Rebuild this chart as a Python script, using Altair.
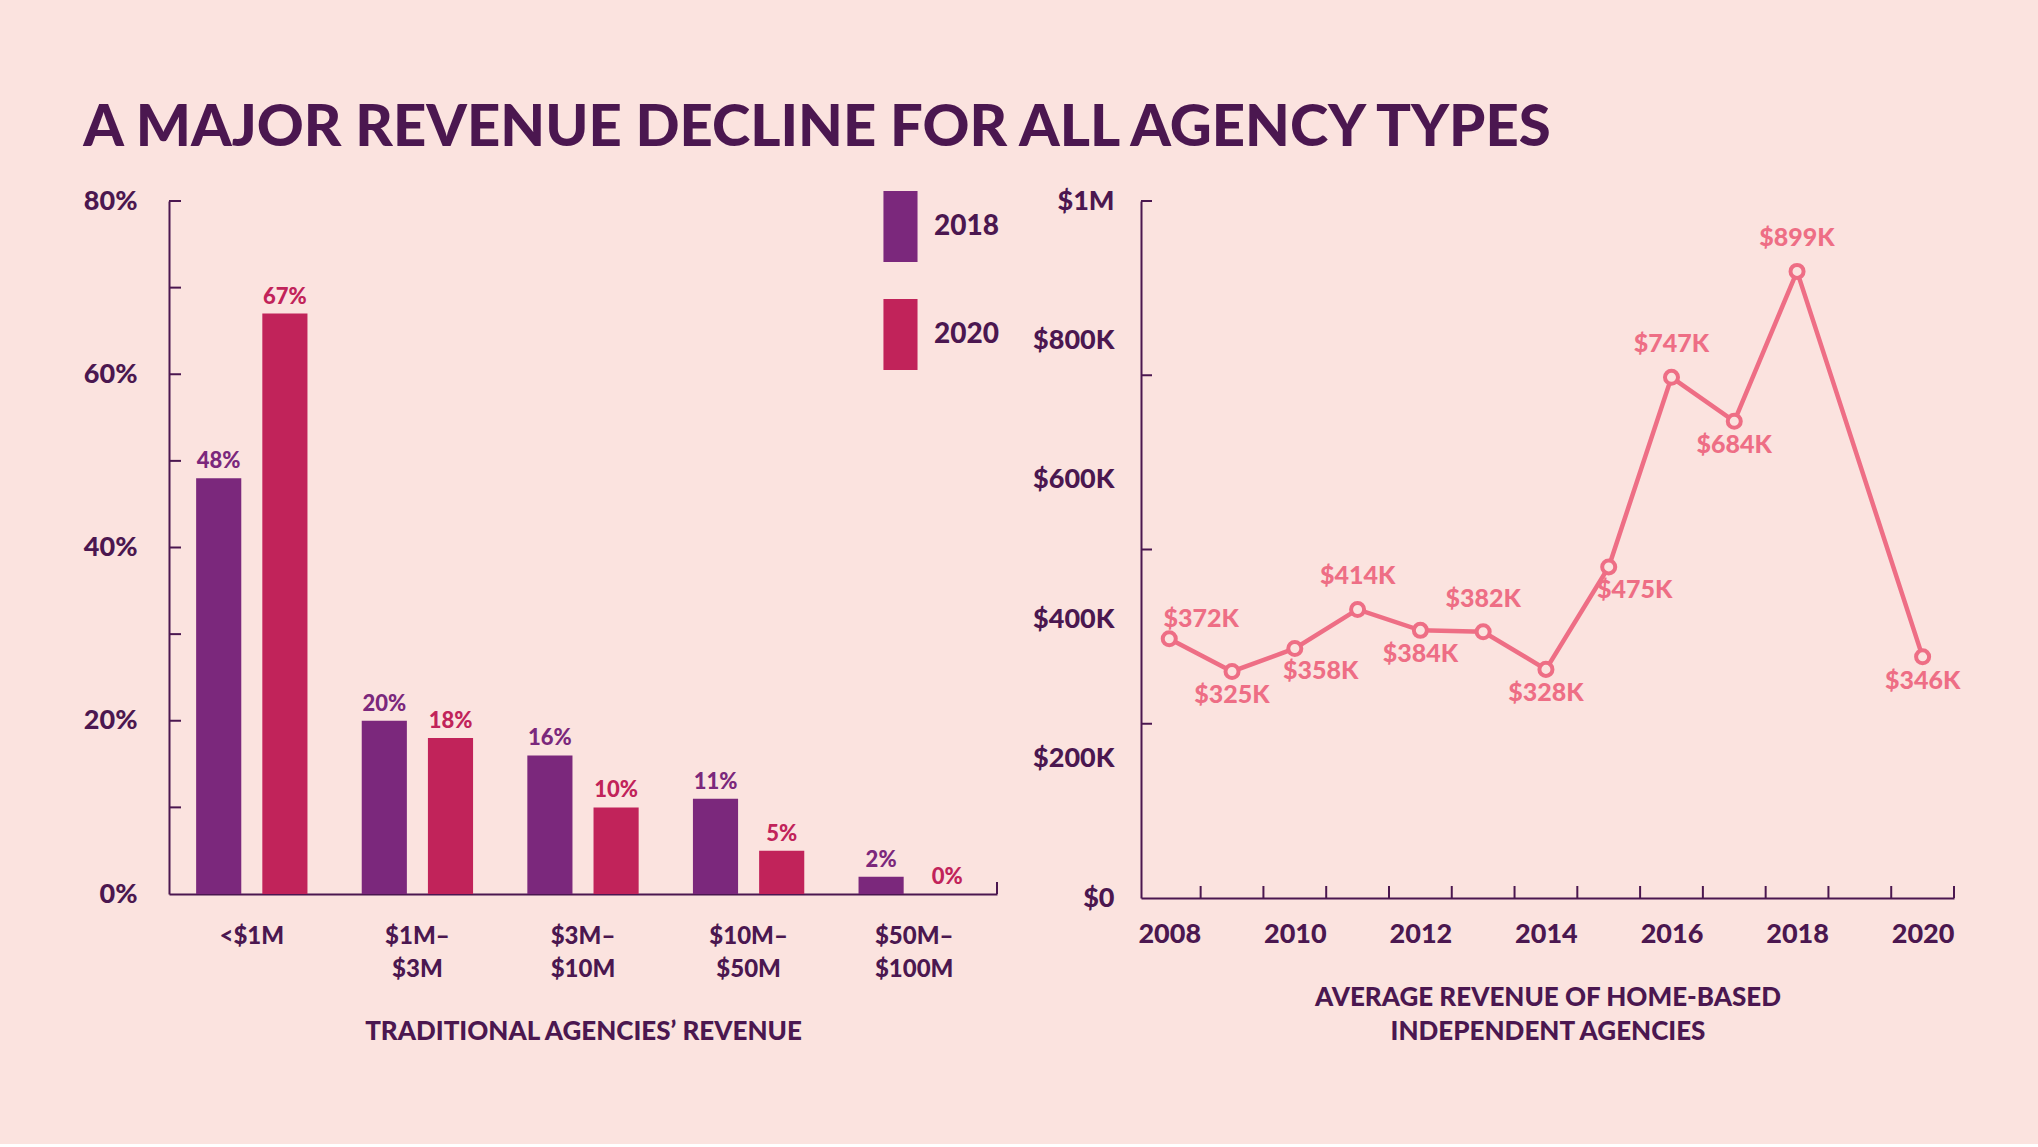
import altair as alt
import pandas as pd

# ---- data -------------------------------------------------------------
# Traditional agencies: share of agencies in each revenue band
bands = ["<$1M", "$1M–$3M", "$3M–$10M", "$10M–$50M", "$50M–$100M"]
share_2018 = [48, 20, 16, 11, 2]
share_2020 = [67, 18, 10, 5, 0]
legend_years = ["2018", "2020"]
share_ticks = [10, 20, 30, 40, 50, 60, 70, 80]
share_labels = [0, 20, 40, 60, 80]

# Home-based independent agencies: average revenue (thousands of dollars)
years = [2008, 2009, 2010, 2011, 2012, 2013, 2014, 2015, 2016, 2017, 2018, 2020]
avg_revenue_k = [372, 325, 358, 414, 384, 382, 328, 475, 747, 684, 899, 346]
label_side = ["above-right", "below", "below-right", "above", "below", "above",
              "below", "below-right", "above", "below", "above", "below"]
year_labels = [2008, 2010, 2012, 2014, 2016, 2018, 2020]
year_ticks = [2008.5, 2009.5, 2010.5, 2011.5, 2012.5, 2013.5, 2014.5,
              2015.5, 2016.5, 2017.5, 2018.5, 2019.5, 2020.5]
revenue_labels = [0, 200000, 400000, 600000, 800000, 1000000]
revenue_ticks = [250000, 500000, 750000, 1000000]

# ---- style ------------------------------------------------------------
BG = "#FBE3DF"
DARK = "#4B1750"
PURPLE = "#7B287C"
CRIMSON = "#C1235A"
PINK = "#EE6E85"
FONT = "Lato"
HEAVY = 900

LEFT_W, LEFT_H = 828, 693
RIGHT_W, RIGHT_H = 813, 697

# ---- left: grouped bars -------------------------------------------------
bars_df = pd.DataFrame({
    "band": bands * 2,
    "year": [legend_years[0]] * len(bands) + [legend_years[1]] * len(bands),
    "share": share_2018 + share_2020,
})
share_tick_df = pd.DataFrame({"share": share_ticks})
share_end_df = pd.DataFrame({"share": [0]})

x_band = alt.X(
    "band:N", sort=bands,
    scale=alt.Scale(paddingInner=0, paddingOuter=0),
    axis=alt.Axis(
        labelAngle=0, ticks=False, tickSize=0, labelPadding=30,
        labelExpr="split(replace(datum.label, '–', '–|'), '|')",
        labelLineHeight=33, labelFontSize=24, labelFont=FONT, labelFontWeight=HEAVY,
        labelColor=DARK, domainColor=DARK, domainWidth=2,
        title="TRADITIONAL AGENCIES’ REVENUE", titleFontSize=26, titleFont=FONT,
        titleFontWeight=HEAVY, titleColor=DARK, titlePadding=37,
    ),
)
x_off = alt.XOffset("year:N", scale=alt.Scale(paddingInner=0.318, paddingOuter=0.41))
y_share = alt.Y(
    "share:Q",
    scale=alt.Scale(domain=[0, 80], nice=False),
    axis=alt.Axis(
        values=share_labels, labelExpr="datum.value + '%'", ticks=False, tickSize=0,
        grid=False, labelPadding=32, labelFontSize=27, labelFont=FONT,
        labelFontWeight=HEAVY, labelColor=DARK, domainColor=DARK, domainWidth=2,
        title=None,
    ),
)
year_scale = alt.Scale(domain=legend_years, range=[PURPLE, CRIMSON])

bars = alt.Chart(bars_df).mark_bar().encode(
    x=x_band, xOffset=x_off, y=y_share,
    color=alt.Color(
        "year:N", scale=year_scale,
        legend=alt.Legend(
            title=None, orient="none", legendX=694, legendY=-10, padding=0,
            symbolType="M-0.424,-1L0.536,-1L0.536,1L-0.424,1Z", symbolSize=5041,
            symbolStrokeWidth=0, symbolOpacity=1, rowPadding=37, labelOffset=0,
            labelFontSize=28, labelFont=FONT, labelFontWeight=HEAVY, labelColor=DARK,
        ),
    ),
)
bar_labels = alt.Chart(bars_df).transform_calculate(
    pct="datum.share + '%'"
).mark_text(dy=-10, baseline="alphabetic", fontSize=22, font=FONT, fontWeight=HEAVY).encode(
    x=x_band, xOffset=x_off, y=y_share, text="pct:N",
    color=alt.Color("year:N", scale=year_scale, legend=None),
)
share_ticks_layer = alt.Chart(share_tick_df).mark_rule(color=DARK, strokeWidth=2).encode(
    y=y_share, x=alt.value(0), x2=alt.value(12)
)
share_end_tick = alt.Chart(share_end_df).mark_rule(color=DARK, strokeWidth=2).encode(
    y=y_share, y2=alt.value(LEFT_H - 12), x=alt.value(LEFT_W)
)

left = alt.layer(bars, bar_labels, share_ticks_layer, share_end_tick).properties(
    width=LEFT_W, height=LEFT_H
)

# ---- right: line with markers ------------------------------------------
rev_df = pd.DataFrame({
    "year": years,
    "revenue": [v * 1000 for v in avg_revenue_k],
    "side": label_side,
    "label": ["$%dK" % v for v in avg_revenue_k],
})
rev_tick_df = pd.DataFrame({"revenue": revenue_ticks})
year_tick_df = pd.DataFrame({"year": year_ticks})

x_year = alt.X(
    "year:Q",
    scale=alt.Scale(domain=[2007.55, 2020.5], nice=False, zero=False),
    axis=alt.Axis(
        values=year_labels, format="d", ticks=False, tickSize=0, grid=False,
        labelPadding=23, labelFontSize=27, labelFont=FONT, labelFontWeight=HEAVY,
        labelColor=DARK, domainColor=DARK, domainWidth=2,
        title=["AVERAGE REVENUE OF HOME-BASED", "INDEPENDENT AGENCIES"],
        titleFontSize=26, titleFont=FONT, titleFontWeight=HEAVY, titleColor=DARK,
        titleLineHeight=34, titlePadding=37,
    ),
)
y_rev = alt.Y(
    "revenue:Q",
    scale=alt.Scale(domain=[0, 1000000], nice=False),
    axis=alt.Axis(
        values=revenue_labels,
        labelExpr="datum.value == 1000000 ? '$1M' : datum.value == 0 ? '$0' : '$' + format(datum.value / 1000, 'd') + 'K'",
        ticks=False, tickSize=0, grid=False, labelPadding=27, labelFontSize=27,
        labelFont=FONT, labelFontWeight=HEAVY, labelColor=DARK,
        domainColor=DARK, domainWidth=2, title=None,
    ),
)

line = alt.Chart(rev_df).mark_line(color=PINK, strokeWidth=4.5).encode(x=x_year, y=y_rev)
points = alt.Chart(rev_df).mark_point(
    shape="circle", filled=True, fill=BG, stroke=PINK, strokeWidth=4, size=170, opacity=1
).encode(x=x_year, y=y_rev)

label_offsets = {
    "above": (0, -33),
    "below": (0, 24),
    "above-right": (32, -20),
    "below-right": (26, 23),
}
point_labels = [
    alt.Chart(rev_df).transform_filter(alt.datum.side == side).mark_text(
        dx=dx, dy=dy, fontSize=25, font=FONT, fontWeight=HEAVY, color=PINK
    ).encode(x=x_year, y=y_rev, text="label:N")
    for side, (dx, dy) in label_offsets.items()
]

rev_ticks_layer = alt.Chart(rev_tick_df).mark_rule(color=DARK, strokeWidth=2).encode(
    y=y_rev, x=alt.value(0), x2=alt.value(11)
)
year_ticks_layer = alt.Chart(year_tick_df).mark_rule(color=DARK, strokeWidth=2).encode(
    x=x_year, y=alt.value(RIGHT_H), y2=alt.value(RIGHT_H - 12)
)

right = alt.layer(line, points, *point_labels, rev_ticks_layer, year_ticks_layer).properties(
    width=RIGHT_W, height=RIGHT_H
)

chart = alt.hconcat(left, right, spacing=144, bounds="flush").properties(
    title=alt.TitleParams(
        "A MAJOR REVENUE DECLINE FOR ALL AGENCY TYPES",
        anchor="start", fontSize=58, font=FONT, fontWeight=HEAVY, color=DARK, offset=29,
    ),
    background=BG,
    padding={"left": 83, "top": 100, "right": 77, "bottom": 100},
).configure_view(stroke=None)

chart.save("out.html", embed_options={"renderer": "svg", "actions": False})
